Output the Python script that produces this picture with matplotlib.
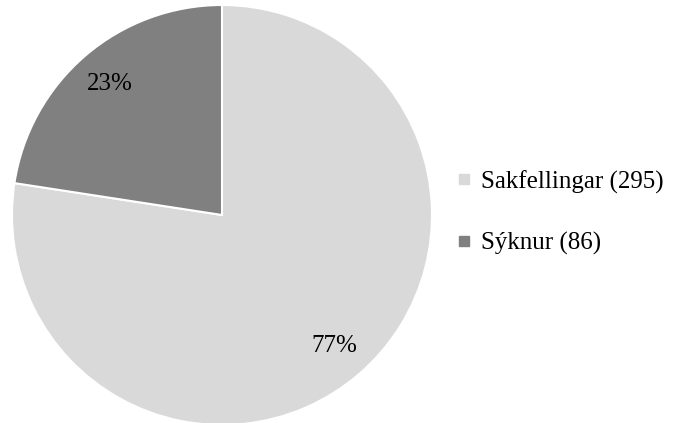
import matplotlib.pyplot as plt
from matplotlib.lines import Line2D

labels = ["Sakfellingar (295)", "Sýknur (86)"]
counts = [295, 86]
colors = ["#d9d9d9", "#808080"]

plt.rcParams['font.family'] = ['Liberation Serif', 'DejaVu Serif']

fig = plt.figure(figsize=(6.73, 4.23), dpi=100)
ax = fig.add_axes([12 / 673, -2 / 423, 420 / 673, 420 / 423])

wedges, texts, autotexts = ax.pie(
    counts, colors=colors, startangle=90, counterclock=False,
    autopct=lambda p: f"{p:.0f}%", pctdistance=0.82, radius=1,
    wedgeprops=dict(edgecolor="white", linewidth=1.5),
    textprops=dict(fontsize=18, color="black"))
ax.set_xlim(-1, 1)
ax.set_ylim(-1, 1)

handles = [Line2D([], [], marker="s", linestyle="none", markersize=7,
                  markerfacecolor=c, markeredgecolor=c) for c in colors]
fig.legend(handles, labels, loc="center left", bbox_to_anchor=(0.646, 0.497),
           frameon=False, fontsize=18, labelspacing=1.55, handlelength=0.5,
           handletextpad=0.45)

plt.savefig("out.png")
